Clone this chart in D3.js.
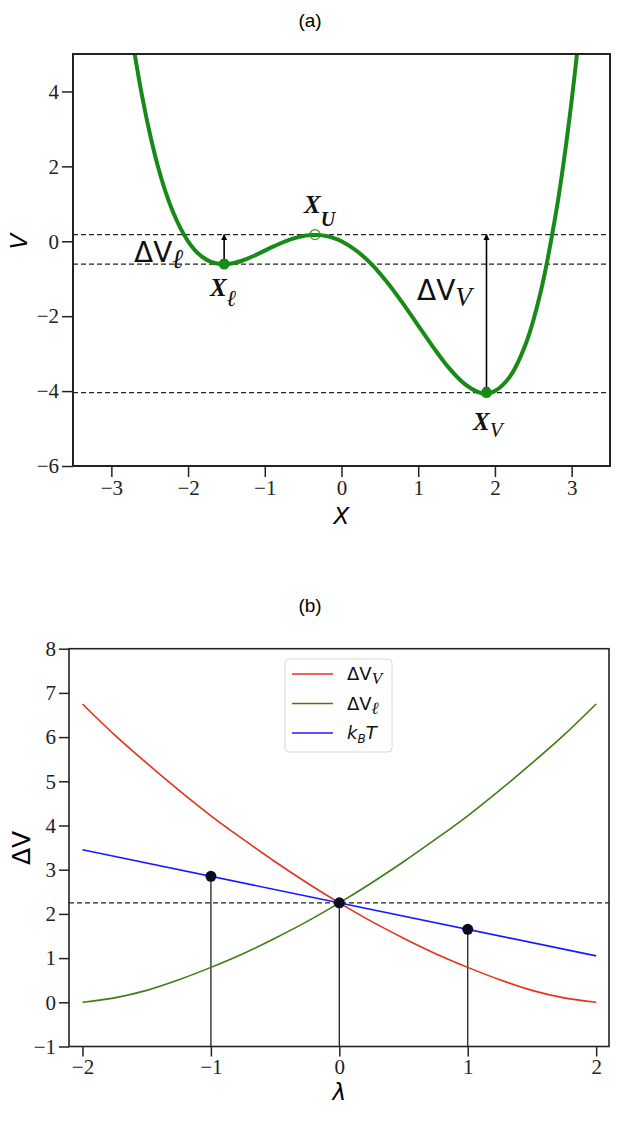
<html>

<head>
  <script src="https://d3js.org/d3.v7.min.js"></script>
  <style>
    body { margin: 0; background: #fff; }
    .tick text { font-family: "Liberation Serif", serif; font-size: 21px; fill: #222; }
    .tick line { stroke: #222; stroke-width: 1.5; }
    .domain { display: none; }
  </style>
</head>

<body>
  <svg id="fig" width="621" height="1123"></svg>
  <script>
    // ---- panel (a): potential V(X)
    const potX = [-2.7, -2.6, -2.5, -2.4, -2.3, -2.2, -2.1, -2.0, -1.9, -1.8, -1.7, -1.6, -1.5, -1.4, -1.3, -1.2, -1.1, -1.0,
      -0.9, -0.8, -0.7, -0.6, -0.5, -0.4, -0.3, -0.2, -0.1, 0, 0.2, 0.4, 0.6, 0.8, 1.0, 1.2, 1.4, 1.6, 1.8, 1.9, 2.0,
      2.2, 2.4, 2.6, 2.8, 2.9, 3.0, 3.1]
    const potV = [5.05, 3.88, 2.89, 2.05, 1.36, 0.80, 0.35, 0.0, -0.26, -0.44, -0.55, -0.60, -0.61, -0.58, -0.52, -0.44, -0.35, -0.25,
      -0.15, -0.06, 0.025, 0.09, 0.14, 0.166, 0.167, 0.14, 0.085, 0, -0.26, -0.63, -1.11, -1.66, -2.25, -2.84, -3.38, -3.80, -4.04, -4.06, -4.0,
      -3.60, -2.75, -1.32, 0.81, 2.17, 3.75, 5.57]
    const dashLevels = [0.18, -0.61, -4.04]
    const pointL = [-1.53, -0.61]
    const pointU = [-0.345, 0.18]
    const pointV = [1.89, -4.04]
    const potXTicks = [-3, -2, -1, 0, 1, 2, 3]
    const potVTicks = [-6, -4, -2, 0, 2, 4]

    // ---- panel (b): barriers vs lambda
    const lam = [-2, -1.75, -1.5, -1.25, -1, -0.75, -0.5, -0.25, 0, 0.25, 0.5, 0.75, 1, 1.25, 1.5, 1.75, 2]
    const dvV = [6.75, 6.05, 5.41, 4.80, 4.22, 3.69, 3.18, 2.70, 2.25, 1.83, 1.45, 1.10, 0.79, 0.51, 0.27, 0.10, 0]
    const dvL = [0, 0.10, 0.27, 0.51, 0.79, 1.10, 1.45, 1.83, 2.25, 2.70, 3.18, 3.69, 4.22, 4.80, 5.41, 6.05, 6.75]
    const kbtLam = [-2, 2]
    const kbt = [3.45, 1.05]
    const dotLam = [-1, 0, 1]
    const dotDV = [2.85, 2.25, 1.65]
    const crossLevel = 2.25
    const lamTicks = [-2, -1, 0, 1, 2]
    const dvTicks = [-1, 0, 1, 2, 3, 4, 5, 6, 7, 8]

    const svg = d3.select("#fig")
    const ink = "#222"
    const intFmt = d3.format("d")

    const defs = svg.append("defs")
    defs.append("marker").attr("id", "head")
      .attr("viewBox", "0 0 10 10").attr("refX", 9).attr("refY", 5)
      .attr("markerWidth", 6).attr("markerHeight", 7)
      .attr("markerUnits", "userSpaceOnUse")
      .attr("orient", "auto-start-reverse")
      .append("path").attr("d", "M0,0L10,5L0,10z").attr("fill", "#000")

    // ================= panel (a)
    const ax = d3.scaleLinear().domain([-3.5, 3.5]).range([73, 610])
    const ay = d3.scaleLinear().domain([-6, 5]).range([466, 54])

    defs.append("clipPath").attr("id", "clipA").append("rect")
      .attr("x", ax(-3.5)).attr("y", ay(5)).attr("width", ax(3.5) - ax(-3.5)).attr("height", ay(-6) - ay(5))

    svg.append("text").attr("x", 310).attr("y", 27).attr("text-anchor", "middle")
      .style("font-family", "Liberation Sans").style("font-size", "19px").text("(a)")

    svg.append("g").attr("transform", `translate(0,${ay(-6)})`)
      .call(d3.axisBottom(ax).tickValues(potXTicks).tickFormat(intFmt).tickSize(11).tickPadding(3).tickSizeOuter(0))
    svg.append("g").attr("transform", `translate(${ax(-3.5)},0)`)
      .call(d3.axisLeft(ay).tickValues(potVTicks).tickFormat(intFmt).tickSize(11).tickPadding(3).tickSizeOuter(0))

    const panelA = svg.append("g").attr("clip-path", "url(#clipA)")
    panelA.selectAll("line.lvl").data(dashLevels).join("line").attr("class", "lvl")
      .attr("x1", ax(-3.5)).attr("x2", ax(3.5))
      .attr("y1", d => ay(d)).attr("y2", d => ay(d))
      .style("stroke", ink).style("stroke-width", 1.3).style("stroke-dasharray", "5,3")

    const potLine = d3.line().x((d, i) => ax(potX[i])).y(d => ay(d)).curve(d3.curveCatmullRom)
    panelA.append("path").attr("d", potLine(potV))
      .style("fill", "none").style("stroke", "#178a17").style("stroke-width", 4)

    // arrows for the barriers
    const arrows = [[pointL[0], pointL[1], dashLevels[0]], [pointV[0], pointV[1], dashLevels[0]]]
    svg.selectAll("line.arr").data(arrows).join("line").attr("class", "arr")
      .attr("x1", d => ax(d[0])).attr("x2", d => ax(d[0]))
      .attr("y1", d => ay(d[1])).attr("y2", d => ay(d[2]))
      .style("stroke", "#000").style("stroke-width", 1.6)
      .attr("marker-start", "url(#head)").attr("marker-end", "url(#head)")

    svg.selectAll("circle.min").data([pointL, pointV]).join("circle").attr("class", "min")
      .attr("cx", d => ax(d[0])).attr("cy", d => ay(d[1])).attr("r", 5.5)
      .style("fill", "#178a17")
    svg.append("circle").attr("cx", ax(pointU[0])).attr("cy", ay(pointU[1])).attr("r", 5)
      .style("fill", "none").style("stroke", "#2a9a2a").style("stroke-width", 1.2)

    svg.append("rect").attr("x", ax(-3.5)).attr("y", ay(5))
      .attr("width", ax(3.5) - ax(-3.5)).attr("height", ay(-6) - ay(5))
      .style("fill", "none").style("stroke", ink).style("stroke-width", 2)

    // labels in panel (a)
    const dvLab = (x, y, sub, subFont, subStyle, subWeight, dy) => {
      const t = svg.append("text").attr("x", x).attr("y", y)
        .style("font-family", "DejaVu Sans").style("font-size", "28px").style("fill", "#111")
      t.append("tspan").text("ΔV")
      t.append("tspan").attr("dy", dy).style("font-family", subFont).style("font-style", subStyle)
        .style("font-weight", subWeight).style("font-size", "27px").text(sub)
    }
    dvLab(134, 262, "ℓ", "Liberation Serif", "italic", "bold", 6)
    dvLab(417, 300, "V", "Liberation Serif", "italic", "normal", 6)

    const xLab = (x, y, sub, size, dy) => {
      const t = svg.append("text").attr("x", x).attr("y", y)
        .style("font-family", "Liberation Serif").style("font-style", "italic").style("font-weight", "bold")
        .style("font-size", "25px").style("fill", "#111")
      t.append("tspan").text("X")
      t.append("tspan").attr("dy", dy).style("font-size", size).text(sub)
    }
    xLab(210, 296, "ℓ", "23px", 10)
    xLab(304, 213, "U", "20px", 13)
    svg.append("text").attr("x", 473).attr("y", 430)
      .style("font-family", "Liberation Serif").style("font-style", "italic").style("font-weight", "bold")
      .style("font-size", "25px").style("fill", "#111")
      .call(t => {
        t.append("tspan").text("X")
        t.append("tspan").attr("dy", 7).style("font-weight", "normal").style("font-size", "21px").text("V")
      })

    svg.append("text").attr("transform", `translate(27,${ay(0)}) rotate(-90)`).attr("text-anchor", "middle")
      .style("font-family", "DejaVu Sans").style("font-style", "oblique").style("font-size", "23px").text("V")
    svg.append("text").attr("x", ax(0)).attr("y", 524).attr("text-anchor", "middle")
      .style("font-family", "DejaVu Sans").style("font-style", "oblique").style("font-size", "23px").text("X")

    // ================= panel (b)
    const bx = d3.scaleLinear().domain([-2.105, 2.1]).range([69, 609])
    const by = d3.scaleLinear().domain([-1, 8]).range([1046.5, 648.7])

    svg.append("text").attr("x", 310).attr("y", 612).attr("text-anchor", "middle")
      .style("font-family", "Liberation Sans").style("font-size", "19px").text("(b)")

    svg.append("g").attr("transform", `translate(0,${by(-1)})`)
      .call(d3.axisBottom(bx).tickValues(lamTicks).tickFormat(intFmt).tickSize(10).tickPadding(3).tickSizeOuter(0))
    svg.append("g").attr("transform", `translate(${bx(-2.105)},0)`)
      .call(d3.axisLeft(by).tickValues(dvTicks).tickFormat(intFmt).tickSize(10).tickPadding(3).tickSizeOuter(0))

    svg.append("line").attr("x1", bx(-2.105)).attr("x2", bx(2.1))
      .attr("y1", by(crossLevel)).attr("y2", by(crossLevel))
      .style("stroke", ink).style("stroke-width", 1.3).style("stroke-dasharray", "5,3")

    svg.selectAll("line.stem").data(dotLam).join("line").attr("class", "stem")
      .attr("x1", d => bx(d)).attr("x2", d => bx(d))
      .attr("y1", (d, i) => by(dotDV[i])).attr("y2", by(-1))
      .style("stroke", ink).style("stroke-width", 1.3)

    const series = [
      { name: "v", lx: lam, ly: dvV, color: "#e4311c" },
      { name: "l", lx: lam, ly: dvL, color: "#3d7f14" },
      { name: "k", lx: kbtLam, ly: kbt, color: "#1a1aff" }
    ]
    const bLine = d3.line().x(d => bx(d[0])).y(d => by(d[1])).curve(d3.curveMonotoneX)
    svg.selectAll("path.ser").data(series).join("path").attr("class", "ser")
      .attr("d", s => bLine(s.lx.map((v, i) => [v, s.ly[i]])))
      .style("fill", "none").style("stroke", s => s.color).style("stroke-width", 1.6)

    svg.selectAll("circle.dot").data(dotLam).join("circle").attr("class", "dot")
      .attr("cx", d => bx(d)).attr("cy", (d, i) => by(dotDV[i])).attr("r", 5.5)
      .style("fill", "#0b0b22")

    svg.append("rect").attr("x", bx(-2.105)).attr("y", by(8))
      .attr("width", bx(2.1) - bx(-2.105)).attr("height", by(-1) - by(8))
      .style("fill", "none").style("stroke", ink).style("stroke-width", 1.6)

    // legend
    const leg = svg.append("g")
    leg.append("rect").attr("x", 285).attr("y", 659).attr("width", 107).attr("height", 93).attr("rx", 4)
      .style("fill", "#fff").style("fill-opacity", 0.85).style("stroke", "#d8d8d8")
    series.forEach((s, i) => {
      const y = 674 + i * 29.5
      leg.append("line").attr("x1", 292).attr("x2", 333).attr("y1", y).attr("y2", y)
        .style("stroke", s.color).style("stroke-width", 1.6)
      const t = leg.append("text").attr("x", 347).attr("y", y + 6)
        .style("font-family", "DejaVu Sans").style("font-size", "18px").style("fill", "#111")
      if (s.name === "k") {
        t.append("tspan").style("font-style", "oblique").text("k")
        t.append("tspan").attr("dy", 4).style("font-style", "oblique").style("font-size", "12px").text("B")
        t.append("tspan").attr("dy", -4).style("font-style", "oblique").text("T")
      } else {
        t.append("tspan").text("ΔV")
        t.append("tspan").attr("dy", 4).style("font-family", "Liberation Serif").style("font-style", "italic")
          .style("font-weight", s.name === "l" ? "bold" : "normal").style("font-size", "17px")
          .text(s.name === "l" ? "ℓ" : "V")
      }
    })

    svg.append("text").attr("transform", `translate(30,848) rotate(-90)`).attr("text-anchor", "middle")
      .style("font-family", "DejaVu Sans").style("font-size", "25px").text("ΔV")
    svg.append("text").attr("x", bx(0)).attr("y", 1100).attr("text-anchor", "middle")
      .style("font-family", "DejaVu Sans").style("font-style", "oblique").style("font-size", "23px").text("λ")
  </script>
</body>

</html>
